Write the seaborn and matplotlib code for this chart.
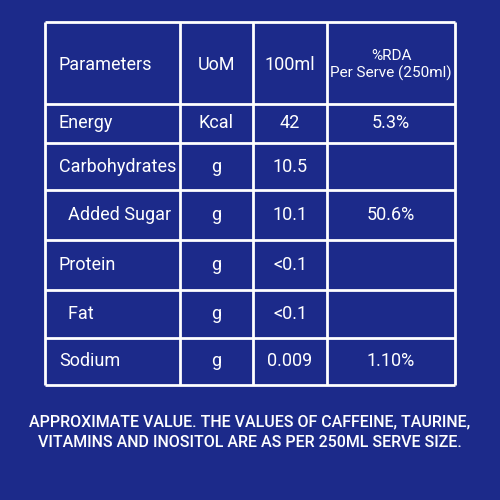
import matplotlib
matplotlib.use("Agg")
import matplotlib.pyplot as plt
import seaborn as sns

sns.set_theme(style="white")
plt.rcParams['font.family'] = ['Liberation Sans Narrow', 'Roboto', 'DejaVu Sans']

header = ["Parameters", "UoM", "100ml", "%RDA\nPer Serve (250ml)"]
params = ["Energy", "Carbohydrates", "  Added Sugar", "Protein", "  Fat", "Sodium"]
uom = ["Kcal", "g", "g", "g", "g", "g"]
per100 = ["42", "10.5", "10.1", "<0.1", "<0.1", "0.009"]
rda = ["5.3%", "", "50.6%", "", "", "1.10%"]
footnote = ("APPROXIMATE VALUE. THE VALUES OF CAFFEINE, TAURINE,\n"
            "VITAMINS AND INOSITOL ARE AS PER 250ML SERVE SIZE.")

bg = "#1c2a8a"
col_edges = [45, 180, 253, 327, 455]
row_edges = [22, 104, 143, 190, 240, 290, 338, 385]

fig = plt.figure(figsize=(5, 5), dpi=100, facecolor=bg)
ax = fig.add_axes([0, 0, 1, 1])
ax.set_facecolor(bg)
ax.set_xlim(0, 500)
ax.set_ylim(500, 0)
ax.axis("off")

ax.hlines(row_edges, col_edges[0], col_edges[-1], color="white", lw=2)
ax.vlines(col_edges, row_edges[0], row_edges[-1], color="white", lw=2)

rows = [header] + [list(r) for r in zip(params, uom, per100, rda)]
for i, row in enumerate(rows):
    yc = (row_edges[i] + row_edges[i + 1]) / 2
    if i == 0:
        yc += 2
    for j, txt in enumerate(row):
        if j == 0:
            x, ha = col_edges[0] + 14, "left"
        else:
            x, ha = (col_edges[j] + col_edges[j + 1]) / 2, "center"
        size = 11 if (i == 0 and j == 3) else 13
        ax.text(x, yc, txt, color="white", ha=ha, va="center", fontsize=size, linespacing=1.2)

ax.text(250, 432, footnote, color="white", ha="center", va="center", fontsize=11.5,
        linespacing=1.45, fontweight="medium")

fig.savefig("out.png", dpi=100, facecolor=bg)
